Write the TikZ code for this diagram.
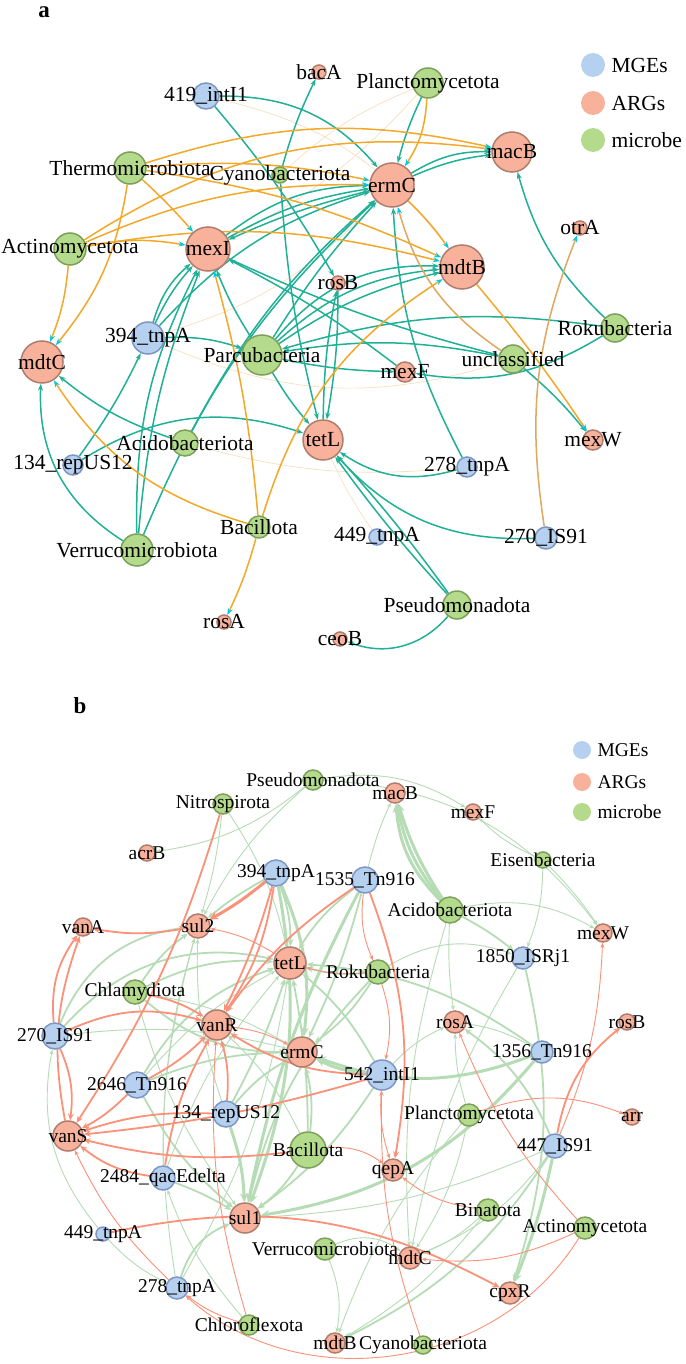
\documentclass[tikz,border=0pt]{standalone}
\usepackage{fontspec}
\setmainfont{Liberation Serif}
\usetikzlibrary{arrows.meta,backgrounds}
\definecolor{mgeF}{RGB}{182,208,240}
\definecolor{mgeD}{RGB}{125,150,195}
\definecolor{argF}{RGB}{248,178,156}
\definecolor{argD}{RGB}{175,125,110}
\definecolor{micF}{RGB}{180,218,140}
\definecolor{micD}{RGB}{125,160,90}
\definecolor{tealC}{RGB}{32,176,150}
\definecolor{orC}{RGB}{242,168,40}
\definecolor{tanC}{RGB}{222,168,95}
\definecolor{cyanC}{RGB}{0,200,225}
\definecolor{faC}{RGB}{248,224,190}
\definecolor{grE}{RGB}{182,220,182}
\definecolor{salE}{RGB}{250,145,120}
\newcommand\fa{\fontsize{21.5}{24}\selectfont}
\newcommand\fb{\fontsize{19.5}{22}\selectfont}
\begin{document}
\begin{tikzpicture}[x=1pt,y=1pt,
 nd/.style={circle,inner sep=0pt,line width=1.5pt},
 mge/.style={nd,draw=mgeD,fill=mgeF,minimum size=#1},
 arg/.style={nd,draw=argD,fill=argF,minimum size=#1},
 mic/.style={nd,draw=micD,fill=micF,minimum size=#1},
 lgd/.style={circle,inner sep=0pt,minimum size=#1},
 aT/.style={draw=tealC,line width=1.5pt,-{Stealth[length=7pt,width=5pt]}},
 aO/.style={draw=orC,line width=1.5pt,-{Stealth[length=7pt,width=5pt,color=cyanC]}},
 aN/.style={draw=tanC,line width=1.5pt,-{Stealth[length=7pt,width=5pt,color=cyanC]}},
 aF/.style={draw=faC,line width=0.7pt},
 gT/.style={draw=grE,line width=0.9pt,-{Stealth[length=5pt,width=4pt]}},
 gM/.style={draw=grE,line width=1.8pt,-{Stealth[length=7pt,width=6pt]}},
 gK/.style={draw=grE,line width=3pt,-{Stealth[length=9pt,width=8pt]}},
 sT/.style={draw=salE,line width=0.9pt,-{Stealth[length=5pt,width=4pt]}},
 sM/.style={draw=salE,line width=1.8pt,-{Stealth[length=7pt,width=6pt]}},
 sK/.style={draw=salE,line width=3pt,-{Stealth[length=9pt,width=8pt]}},
 pl/.style={font=\bfseries\fontsize{23}{26}\selectfont,anchor=base,inner sep=0pt}
]
\useasboundingbox (0,0) rectangle (685,-1364);

% ================= panel a =================
\node[pl] (Apl) at (44,-18) {a};
\begin{scope}[every label/.style={font=\fa,inner sep=0pt}]
\node[arg=14pt,label=center:bacA] (AbacA) at (319,-72) {};
\node[mge=26pt,label=center:419\_intI1] (Ai419) at (206,-96) {};
\node[mic=30pt,label=center:Planctomycetota] (APla) at (428,-83) {};
\node[arg=40pt,label=center:macB] (AmacB) at (512,-152) {};
\node[mic=32pt,label=center:Thermomicrobiota] (AThe) at (130,-168) {};
\node[mic=16pt,label=center:Cyanobacteriota] (ACya) at (280,-175) {};
\node[arg=44pt,label=center:ermC] (AermC) at (392,-185) {};
\node[arg=14pt,label=center:otrA] (AotrA) at (580,-228) {};
\node[mic=32pt,label=center:Actinomycetota] (AAct) at (70,-249) {};
\node[arg=44pt,label=center:mexI] (AmexI) at (208,-249) {};
\node[arg=44pt,label=center:mdtB] (AmdtB) at (462,-267) {};
\node[arg=14pt,label=center:rosB] (ArosB) at (338,-283) {};
\node[mic=28pt,label=center:Rokubacteria] (ARok) at (615,-328) {};
\node[mge=32pt,label=center:394\_tnpA] (At394) at (148,-338) {};
\node[mic=40pt,label=center:Parcubacteria] (APar) at (262,-355) {};
\node[mic=28pt,label=center:unclassified] (AUnc) at (513,-359) {};
\node[arg=42pt,label=center:mdtC] (AmdtC) at (42,-362) {};
\node[arg=20pt,label=center:mexF] (AmexF) at (405,-372) {};
\node[arg=40pt,label=center:tetL] (AtetL) at (323,-440) {};
\node[arg=20pt,label=center:mexW] (AmexW) at (593,-440) {};
\node[mic=26pt,label=center:Acidobacteriota] (AAci) at (185,-443) {};
\node[mge=20pt,label=center:134\_repUS12] (Ar134) at (73,-465) {};
\node[mge=20pt,label=center:278\_tnpA] (At278) at (467,-467) {};
\node[mic=22pt,label=center:Bacillota] (ABac) at (259,-527) {};
\node[mge=16pt,label=center:449\_tnpA] (At449) at (377,-537) {};
\node[mge=22pt,label=center:270\_IS91] (AI270) at (546,-538) {};
\node[mic=32pt,label=center:Verrucomicrobiota] (AVer) at (137,-550) {};
\node[mic=28pt,label=center:Pseudomonadota] (APse) at (457,-605) {};
\node[arg=14pt,label=center:rosA] (ArosA) at (224,-622) {};
\node[arg=14pt,label=center:ceoB] (AceoB) at (340,-639) {};
% legend a
\node[lgd=24pt,fill=mgeF] (ALg1) at (593,-65) {};
\node[lgd=24pt,fill=argF] (ALg2) at (593,-103) {};
\node[lgd=24pt,fill=micF] (ALg3) at (593,-140) {};
\node[font=\fa,anchor=west] (ALt1) at (608,-65) {MGEs};
\node[font=\fa,anchor=west] (ALt2) at (608,-103) {ARGs};
\node[font=\fa,anchor=west] (ALt3) at (608,-140) {microbe};
\end{scope}

% ================= panel b =================
\node[pl] (Bpl) at (80,-713) {b};
\begin{scope}[every label/.style={font=\fb,inner sep=0pt}]
\node[mic=20pt,label=center:Pseudomonadota] (BPse) at (313,-780) {};
\node[arg=20pt,label=center:macB] (BmacB) at (395,-793) {};
\node[arg=16pt,label=center:mexF] (BmexF) at (473,-812) {};
\node[mic=20pt,label=center:Nitrospirota] (BNit) at (223,-804) {};
\node[arg=16pt,label=center:acrB] (BacrB) at (147,-853) {};
\node[mic=16pt,label=center:Eisenbacteria] (BEis) at (543,-860) {};
\node[mge=26pt,label=center:394\_tnpA] (B394) at (276,-873) {};
\node[mge=26pt,label=center:1535\_Tn916] (B1535) at (365,-880) {};
\node[mic=26pt,label=center:Acidobacteriota] (BAci) at (450,-910) {};
\node[arg=24pt,label=center:sul2] (Bsul2) at (198,-926) {};
\node[arg=18pt,label=center:vanA] (BvanA) at (83,-927) {};
\node[arg=18pt,label=center:mexW] (BmexW) at (603,-933) {};
\node[mge=22pt,label=center:1850\_ISRj1] (B1850) at (523,-958) {};
\node[arg=32pt,label=center:tetL] (BtetL) at (290,-963) {};
\node[mic=24pt,label=center:Rokubacteria] (BRok) at (378,-972) {};
\node[mic=24pt,label=center:Chlamydiota] (BChl) at (135,-992) {};
\node[arg=22pt,label=center:rosA] (BrosA) at (455,-1022) {};
\node[arg=16pt,label=center:rosB] (BrosB) at (627,-1022) {};
\node[arg=30pt,label=center:vanR] (BvanR) at (217,-1025) {};
\node[mge=26pt,label=center:270\_IS91] (B270) at (55,-1036) {};
\node[arg=30pt,label=center:ermC] (BermC) at (302,-1052) {};
\node[mge=22pt,label=center:1356\_Tn916] (B1356) at (542,-1052) {};
\node[mge=30pt,label=center:542\_intI1] (B542) at (382,-1075) {};
\node[mge=26pt,label=center:2646\_Tn916] (B2646) at (137,-1085) {};
\node[mge=26pt,label=center:134\_repUS12] (B134) at (226,-1114) {};
\node[mic=22pt,label=center:Planctomycetota] (BPla) at (469,-1115) {};
\node[arg=16pt,label=center:arr] (Barr) at (632,-1117) {};
\node[arg=30pt,label=center:vanS] (BvanS) at (68,-1136) {};
\node[mge=24pt,label=center:447\_IS91] (B447) at (555,-1146) {};
\node[mic=36pt,label=center:Bacillota] (BBac) at (308,-1150) {};
\node[arg=22pt,label=center:qepA] (BqepA) at (393,-1170) {};
\node[mge=24pt,label=center:2484\_qacEdelta] (B2484) at (163,-1178) {};
\node[mic=22pt,label=center:Binatota] (BBin) at (488,-1210) {};
\node[arg=30pt,label=center:sul1] (Bsul1) at (245,-1218) {};
\node[mic=22pt,label=center:Actinomycetota] (BAct) at (585,-1228) {};
\node[mge=14pt,label=center:449\_tnpA] (B449) at (103,-1234) {};
\node[mic=22pt,label=center:Verrucomicrobiota] (BVer) at (325,-1249) {};
\node[arg=22pt,label=center:mdtC] (BmdtC) at (410,-1258) {};
\node[mge=22pt,label=center:278\_tnpA] (B278) at (177,-1288) {};
\node[arg=22pt,label=center:cpxR] (BcpxR) at (510,-1293) {};
\node[mic=20pt,label=center:Chloroflexota] (BChf) at (249,-1325) {};
\node[arg=20pt,label=center:mdtB] (BmdtB) at (335,-1343) {};
\node[mic=18pt,label=center:Cyanobacteriota] (BCya) at (423,-1345) {};
% legend b
\node[lgd=18pt,fill=mgeF] (BLg1) at (582,-750) {};
\node[lgd=18pt,fill=argF] (BLg2) at (582,-782) {};
\node[lgd=18pt,fill=micF] (BLg3) at (582,-812) {};
\node[font=\fb,anchor=west] (BLt1) at (594,-750) {MGEs};
\node[font=\fb,anchor=west] (BLt2) at (594,-782) {ARGs};
\node[font=\fb,anchor=west] (BLt3) at (594,-812) {microbe};
\end{scope}

\begin{scope}[on background layer]
\fill[white] (0,0) rectangle (685,-1364);
% ---- panel a faint
\draw[aF] (Ai419) to[bend left=20] (AmdtB);
\draw[aF] (APla) to[bend left=10] (AmexI);
\draw[aF] (At394) to[bend right=20] (AUnc);
\draw[aF] (AAci) to[bend right=10] (At278);
\draw[aF] (At449) to[bend left=5] (AtetL);
\draw[aF] (ACya) to[bend left=10] (APla);
\draw[aF] (AermC) to[bend left=15] (At394);
% ---- panel a teal
\draw[aT] (Ai419) to[bend left=25] (AermC);
\draw[aT] (Ai419) to[bend left=5] (ArosB);
\draw[aT] (APla) to[bend right=5] (AermC);
\draw[aT] (AermC) to[bend left=8] (AmacB);
\draw[aT] (AermC) to[bend left=16] (AmacB);
\draw[aT] (ACya) to[bend left=5] (AbacA);
\draw[aT] (ACya) to[bend right=5] (AtetL);
\draw[aT] (AermC) to[bend right=5] (AmexI);
\draw[aT] (AmexI) to[bend left=10] (AermC);
\draw[aT] (AmexI) to[bend left=18] (AermC);
\draw[aT] (At394) to[bend left=8] (AmexI);
\draw[aT] (At394) to[bend left=16] (AmexI);
\draw[aT] (At394) to[bend left=15] (AermC);
\draw[aT] (AVer) to[bend left=8] (AmexI);
\draw[aT] (AVer) to[bend left=14] (AmexI);
\draw[aT] (AVer) to[bend left=30] (AmdtC);
\draw[aT] (Ar134) to[bend right=5] (At394);
\draw[aT] (AVer) to[bend left=12] (AermC);
\draw[aT] (AAci) to[bend left=10] (AermC);
\draw[aT] (APar) to[bend left=5] (AmexI);
\draw[aT] (APar) to[bend left=10] (AmdtB);
\draw[aT] (APar) to[bend left=18] (AmdtB);
\draw[aT] (APar) to[bend left=26] (AmdtB);
\draw[aT] (APar) to[bend left=5] (AermC);
\draw[aT] (APar) to[bend right=5] (AtetL);
\draw[aT] (APar) to[bend right=5] (AmexF);
\draw[aT] (AUnc) to[bend right=10] (APar);
\draw[aT] (ARok) to[bend right=12] (APar);
\draw[aT] (ARok) to[bend left=20] (AmexF);
\draw[aT] (AUnc) to[bend left=5] (AmexW);
\draw[aT] (ARok) to[bend left=15] (AmacB);
\draw[aT] (At278) to[bend left=25] (AtetL);
\draw[aT] (At278) to[bend left=12] (AermC);
\draw[aT] (AI270) to[bend left=25] (AtetL);
\draw[aT] (APse) to[bend left=3] (AtetL);
\draw[aT] (APse) to[bend right=3] (AtetL);
\draw[aT] (APse) to[bend left=35] (AceoB);
\draw[aT] (ArosB) to[bend left=5] (AtetL);
\draw[aT] (AtetL) to[bend left=5] (ArosB);
\draw[aT] (Ar134) to[bend left=25] (AtetL);
\draw[aT] (AAci) to[bend left=10] (AmdtC);
\draw[aT] (At394) to[bend left=10] (APar);
\draw[aT] (AmexF) to[bend right=5] (AmexI);
\draw[aT] (AmexI) to[bend right=5] (AUnc);
% ---- panel a orange
\draw[aO] (AThe) to[bend left=15] (AmacB);
\draw[aO] (AAct) to[bend left=20] (AmacB);
\draw[aO] (AThe) to[bend left=8] (AmdtB);
\draw[aO] (AAct) to[bend left=12] (AmdtB);
\draw[aO] (AThe) to[bend left=3] (AmexI);
\draw[aO] (AThe) to[bend left=15] (AmdtC);
\draw[aO] (AAct) to[bend left=10] (AmexI);
\draw[aO] (AAct) to[bend left=8] (AmdtC);
\draw[aO] (AAct) to[bend left=12] (AermC);
\draw[aO] (AThe) to[bend left=8] (AermC);
\draw[aO] (APla) to[bend left=15] (AermC);
\draw[aO] (AermC) to[bend left=5] (AmdtB);
\draw[aO] (AmdtB) to[bend left=3] (AmexW);
\draw[aN] (AUnc) to[bend left=20] (AermC);
\draw[aN] (AI270) to[bend left=15] (AotrA);
\draw[aO] (ABac) to[bend left=20] (AmdtC);
\draw[aO] (ABac) to[bend left=5] (ArosA);
\draw[aO] (ABac) to[bend left=20] (AmdtB);
\draw[aO] (ABac) to[bend right=5] (AmexI);

% ---- panel b green thin
\draw[gT] (BPse) to[bend left=15] (BacrB);
\draw[gT] (BPse) to[bend left=20] (BmexF);
\draw[gT] (BPse) to[bend left=25] (BmexW);
\draw[gT] (BPse) to[bend right=10] (Bsul2);
\draw[gT] (BNit) to[bend left=5] (Bsul2);
\draw[gT] (BNit) to[bend left=10] (BtetL);
\draw[gT] (BEis) to[bend left=10] (BmexF);
\draw[gT] (BEis) to[bend left=5] (BmexW);
\draw[gT] (BEis) to[bend left=10] (B1850);
\draw[gT] (BAci) to[bend left=20] (BmexW);
\draw[gT] (BAci) to[bend right=5] (BrosA);
\draw[gT] (B1535) to[bend left=5] (BmacB);
\draw[gT] (BRok) to[bend left=25] (B1850);
\draw[gT] (BChl) to[bend left=10] (BermC);
\draw[gT] (BChl) to[bend right=10] (Bsul1);
\draw[gT] (B270) to[bend left=10] (BermC);
\draw[gT] (B134) to[bend left=10] (Bsul2);
\draw[gT] (B2484) to[bend left=10] (BtetL);
\draw[gT] (B2484) to[bend left=8] (Bsul2);
\draw[gT] (B278) to[bend left=12] (Bsul2);
\draw[gT] (B278) to[bend right=10] (BtetL);
\draw[gT] (B447) to[bend left=15] (BmdtC);
\draw[gT] (B447) to[bend left=10] (Bsul1);
\draw[gT] (BPla) to[bend left=10] (BmdtC);
\draw[gT] (BPla) to[bend left=8] (BrosA);
\draw[gT] (BPla) to[bend right=10] (BmdtB);
\draw[gT] (BBin) to[bend left=10] (BmdtC);
\draw[gT] (BBin) to[bend left=10] (BmdtB);
\draw[gT] (BVer) to[bend left=15] (BmdtB);
\draw[gT] (BVer) to[bend left=30] (BmdtC);
\draw[gT] (B542) to[bend left=10] (BrosA);
\draw[gT] (B449) to[bend right=10] (B278);
\draw[gT] (B449) to[bend left=25] (B270);
\draw[gT] (B1850) to[bend right=10] (BmdtC);
\draw[gT] (BAci) to[bend right=10] (BmdtC);
\draw[gT] (B1356) to[bend right=10] (BrosA);
\draw[gT] (B2646) to[bend left=10] (BtetL);
\draw[gT] (BBac) to[bend right=10] (BvanR);
\draw[gT] (BChf) to[bend left=10] (B2484);
% ---- panel b green medium
\draw[gM] (B394) to[bend right=5] (Bsul2);
\draw[gM] (B394) to[bend left=10] (BtetL);
\draw[gM] (B1535) to[bend right=10] (BtetL);
\draw[gM] (B1535) to[bend left=5] (BermC);
\draw[gM] (BChl) to[bend left=15] (BtetL);
\draw[gM] (BChl) to[bend left=10] (Bsul2);
\draw[gM] (B270) to[bend left=30] (BtetL);
\draw[gM] (B270) to[bend left=30] (Bsul2);
\draw[gM] (B2646) to[bend left=20] (BtetL);
\draw[gM] (B2646) to[bend left=10] (BermC);
\draw[gM] (B2646) to[bend right=10] (Bsul1);
\draw[gM] (B134) to[bend left=10] (BermC);
\draw[gM] (B134) to[bend right=5] (BtetL);
\draw[gM] (BBac) to[bend left=10] (Bsul1);
\draw[gM] (BBac) to[bend right=5] (BtetL);
\draw[gM] (BBac) to[bend right=10] (BermC);
\draw[gM] (B2484) to[bend left=5] (Bsul1);
\draw[gM] (B278) to[bend left=25] (Bsul1);
\draw[gM] (B1356) to[bend right=15] (BtetL);
\draw[gM] (B447) to[bend right=15] (BrosA);
\draw[gM] (B447) to[bend left=15] (BmdtB);
\draw[gM] (B542) to[bend left=10] (Bsul1);
\draw[gM] (B542) to[bend right=10] (BtetL);
\draw[gM] (BRok) to[bend left=10] (BtetL);
\draw[gM] (BRok) to[bend right=15] (Bsul1);
\draw[gM] (BRok) to[bend left=10] (BermC);
\draw[gM] (B1850) to[bend left=15] (BcpxR);
\draw[gM] (BAci) to[bend left=5] (B1850);
\draw[gM] (BChl) to[bend right=20] (BermC);
% ---- panel b green thick
\draw[gK] (BAci) to[bend left=8] (BmacB);
\draw[gK] (BAci) to[bend left=14] (BmacB);
\draw[gK] (BAci) to[bend left=20] (BmacB);
\draw[gK] (B394) to[bend left=15] (BermC);
\draw[gK] (B394) to[bend left=15] (Bsul1);
\draw[gK] (B1535) to[bend right=8] (Bsul1);
\draw[gK] (B134) to[bend left=8] (Bsul1);
\draw[gK] (B1356) to[bend left=20] (Bsul1);
\draw[gK] (B1356) to[bend left=20] (BermC);
\draw[gK] (B447) to[bend left=5] (BcpxR);
\draw[gK] (B542) to[bend left=10] (BermC);
% ---- panel b salmon
\draw[sK] (B394) to[bend left=5] (Bsul2);
\draw[sM] (B394) to[bend left=5] (BvanR);
\draw[sM] (B394) to[bend left=12] (BvanR);
\draw[sM] (Bsul2) to[bend left=10] (BvanA);
\draw[sM] (B1535) to[bend right=10] (BvanR);
\draw[sM] (B1535) to[bend left=15] (BqepA);
\draw[sT] (B1535) to[bend right=15] (BRok);
\draw[sM] (BNit) to[bend left=8] (BvanS);
\draw[sM] (B270) to[bend left=20] (BvanA);
\draw[sM] (B270) to[bend left=15] (BvanS);
\draw[sM] (B270) to[bend left=20] (BvanR);
\draw[sM] (B2646) to[bend left=8] (BvanS);
\draw[sM] (B2646) to[bend right=8] (BvanR);
\draw[sM] (B134) to[bend right=10] (BvanS);
\draw[sM] (B134) to[bend right=10] (BvanR);
\draw[sM] (BBac) to[bend left=10] (BvanS);
\draw[sT] (BBac) to[bend left=20] (BqepA);
\draw[sM] (B2484) to[bend left=15] (BvanS);
\draw[sM] (B2484) to[bend left=10] (BvanR);
\draw[sM] (B542) to[bend left=15] (BvanR);
\draw[sM] (B542) to[bend left=5] (BvanS);
\draw[sT] (B542) to[bend right=10] (BqepA);
\draw[sM] (B449) to[bend left=20] (BcpxR);
\draw[sM] (B447) to[bend left=20] (BrosB);
\draw[sT] (B447) to[bend right=10] (BmexW);
\draw[sT] (BPla) to[bend left=20] (Barr);
\draw[sT] (BAct) to[bend left=10] (BrosA);
\draw[sT] (BAct) to[bend left=15] (BmdtC);
\draw[sT] (BAct) to[bend left=50] (B278);
\draw[sT] (BBin) to[bend left=15] (BqepA);
\draw[sT] (BCya) to[bend left=10] (B542);
\draw[sT] (BChf) to[bend left=10] (BvanR);
\draw[sT] (BChf) to[bend left=10] (B278);
\draw[sT] (B278) to[bend left=10] (BvanS);
\draw[sT] (BtetL) to[bend right=10] (Bsul2);
\draw[sT] (BRok) to[bend left=15] (B542);
\draw[sT] (BvanR) to[bend left=10] (BermC);
\draw[sM] (BChl) to[bend left=10] (BvanR);
\draw[sM] (BvanS) to[bend left=15] (BvanA);
\draw[sT] (BRok) to[bend left=10] (BtetL);
\end{scope}
\end{tikzpicture}
\end{document}
